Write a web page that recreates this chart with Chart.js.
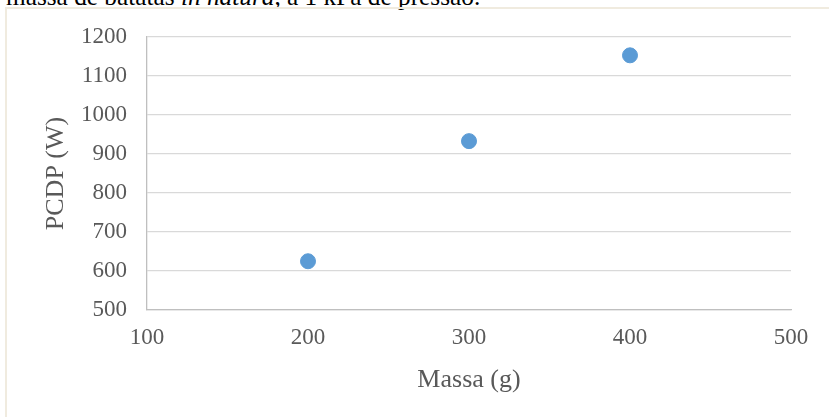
<!DOCTYPE html>
<html>
<head>
<meta charset="utf-8">
<script src="https://cdn.jsdelivr.net/npm/chart.js@4"></script>
<style>
  html, body { margin: 0; padding: 0; background: #fff; overflow: hidden; }
  #wrap { position: relative; width: 831px; height: 417px; }
  #legenda {
    position: absolute; left: 6px; top: -16px; white-space: nowrap;
    font-family: 'Liberation Serif', 'Times New Roman', serif;
    font-size: 25.3px; line-height: 1; color: #000;
  }
  #moldura {
    position: absolute; left: 5px; top: 7px; right: 2px; bottom: -5px;
    border-left: 2px solid #f0ebdf; border-top: 2px solid #f0ebdf;
    pointer-events: none;
  }
  canvas { position: absolute; left: 0; top: 0; }
</style>
</head>
<body>
<div id="wrap">
  <div id="legenda">massa de batatas <i>in natura</i>, a 1 kPa de pressão.</div>
  <div id="moldura"></div>
  <canvas id="grafico" width="831" height="417"></canvas>
</div>
<script>
// massa (g) vs potência (W)
const massa = [200, 300, 400]
const pcdp = [625, 933, 1153]
const tituloX = 'Massa (g)'
const tituloY = 'PCDP (W)'

const fonte = "'Liberation Serif', 'Times New Roman', serif"
const cinza = '#595959'

const pontos = massa.map((m, i) => ({ x: m, y: pcdp[i] }))

// sem separador de milhar
const semVirgula = v => String(v)

new Chart(document.getElementById('grafico'), {
  type: 'scatter',
  data: {
    datasets: [{
      data: pontos,
      backgroundColor: '#5b9bd5',
      borderColor: '#5b9bd5',
      pointRadius: 7.5,
      pointHoverRadius: 7.5,
      borderWidth: 1
    }]
  },
  options: {
    responsive: false,
    animation: false,
    events: [],
    layout: { padding: { left: 0, top: 37, right: 40, bottom: 0 } },
    plugins: { legend: { display: false }, tooltip: { enabled: false } },
    scales: {
      x: {
        type: 'linear',
        min: 100, max: 500,
        ticks: { stepSize: 100, color: cinza, font: { family: fonte, size: 23 }, padding: 14, callback: semVirgula },
        grid: { display: false, drawTicks: false },
        border: { display: true, color: '#bfbfbf', width: 1.3 },
        title: { display: true, text: tituloX, color: cinza, font: { family: fonte, size: 26 }, padding: { top: 0, bottom: 21 } },
        afterFit: s => { s.height = 107 }
      },
      y: {
        type: 'linear',
        min: 500, max: 1200,
        ticks: { stepSize: 100, color: cinza, font: { family: fonte, size: 23 }, padding: 20, callback: semVirgula },
        grid: { color: '#d9d9d9', lineWidth: 1.3, drawTicks: false },
        border: { display: true, color: '#bfbfbf', width: 1.3 },
        title: { display: true, text: tituloY, color: cinza, font: { family: fonte, size: 26 }, padding: { top: 41, bottom: 0 } },
        afterFit: s => { s.width = 147 }
      }
    }
  }
})
</script>
</body>
</html>
